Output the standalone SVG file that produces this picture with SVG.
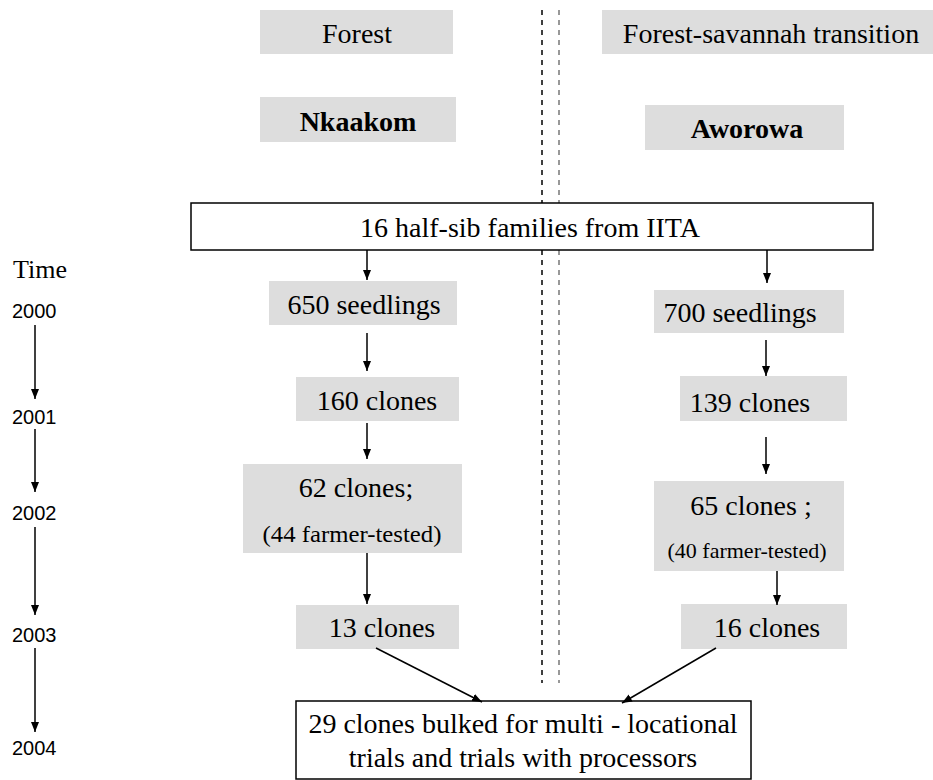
<svg xmlns="http://www.w3.org/2000/svg" width="933" height="780" viewBox="0 0 933 780" font-family="Liberation Serif">
<style>
.g{fill:#dddddd;stroke:none}
.w{fill:#fff;stroke:#000;stroke-width:1.5}
.t{font-family:'Liberation Serif',serif;font-size:28px;fill:#000;text-anchor:middle}
.b{font-weight:bold}
.s{font-family:'Liberation Serif',serif;fill:#000;text-anchor:middle}
.y{font-family:'Liberation Sans',sans-serif;font-size:20px;fill:#000}
.a{stroke:#000;stroke-width:1.5;fill:none;marker-end:url(#ah)}
.d{stroke-width:1.5;stroke-dasharray:5 5}
</style>
<defs>
<marker id="ah" markerUnits="userSpaceOnUse" markerWidth="10" markerHeight="10" viewBox="0 0 10 10" refX="10" refY="5" orient="auto">
<path d="M0,1 L10,5 L0,9 Z" fill="#000"/>
</marker>
</defs>
<g id="divider">
<line class="d" x1="542" y1="10" x2="542" y2="683" stroke="#000"/>
<line class="d" x1="559" y1="10" x2="559" y2="683" stroke="#777"/>
</g>
<g id="forest"><rect class="g" x="260" y="10" width="193" height="44"/><text class="t" x="357" y="43">Forest</text></g>
<g id="transition"><rect class="g" x="602" y="10" width="331" height="44"/><text class="t" x="771" y="43">Forest-savannah transition</text></g>
<g id="nkaakom"><rect class="g" x="260" y="97" width="196" height="45"/><text class="t b" x="358" y="131">Nkaakom</text></g>
<g id="aworowa"><rect class="g" x="645" y="105" width="199" height="45"/><text class="t b" x="747" y="138">Aworowa</text></g>
<g id="iita"><rect class="w" x="191" y="203" width="682" height="47"/><text class="t" x="530" y="237">16 half-sib families from IITA</text></g>
<g id="time-axis">
<text x="13" y="278" font-family="Liberation Serif" font-size="26">Time</text>
<text class="y" x="12" y="318">2000</text>
<text class="y" x="12" y="424">2001</text>
<text class="y" x="12" y="520">2002</text>
<text class="y" x="12" y="642">2003</text>
<text class="y" x="12" y="755">2004</text>
</g>
<g id="n650"><rect class="g" x="269" y="281" width="188" height="44"/><text class="t" x="364" y="314">650 seedlings</text></g>
<g id="n160"><rect class="g" x="296" y="377" width="163" height="44"/><text class="t" x="377" y="410">160 clones</text></g>
<g id="n62"><rect class="g" x="243" y="464" width="219" height="89"/><text class="t" x="356" y="497">62 clones;</text><text class="s" x="352" y="542" font-size="23" textLength="179" lengthAdjust="spacingAndGlyphs">(44 farmer-tested)</text></g>
<g id="n13"><rect class="g" x="296" y="605" width="163" height="44"/><text class="t" x="382" y="637">13 clones</text></g>
<g id="n700"><rect class="g" x="654" y="290" width="190" height="43"/><text class="t" x="740" y="322">700 seedlings</text></g>
<g id="n139"><rect class="g" x="680" y="376" width="167" height="45"/><text class="t" x="750" y="412">139 clones</text></g>
<g id="n65"><rect class="g" x="654" y="481" width="190" height="90"/><text class="t" x="751" y="515">65 clones ;</text><text class="s" x="747" y="558" font-size="21" textLength="159" lengthAdjust="spacingAndGlyphs">(40 farmer-tested)</text></g>
<g id="n16"><rect class="g" x="681" y="604" width="166" height="45"/><text class="t" x="767" y="637">16 clones</text></g>
<g id="bulk"><rect class="w" x="296" y="701" width="455" height="78"/><text class="t" x="523" y="733">29 clones bulked for multi - locational</text><text class="t" x="523" y="767">trials and trials with processors</text></g>
<g id="connectors">
<line class="a" x1="35" y1="325" x2="35" y2="399"/>
<line class="a" x1="35" y1="429" x2="35" y2="492"/>
<line class="a" x1="35" y1="527" x2="35" y2="615"/>
<line class="a" x1="35" y1="648" x2="35" y2="732"/>
<line class="a" x1="367" y1="250" x2="367" y2="280"/>
<line class="a" x1="367" y1="333" x2="367" y2="371"/>
<line class="a" x1="367" y1="423" x2="367" y2="459"/>
<line class="a" x1="367" y1="553" x2="367" y2="604"/>
<line class="a" x1="376" y1="648" x2="482" y2="702"/>
<line class="a" x1="767" y1="250" x2="767" y2="283"/>
<line class="a" x1="766" y1="340" x2="766" y2="376"/>
<line class="a" x1="766" y1="437" x2="766" y2="474"/>
<line class="a" x1="777" y1="571" x2="777" y2="605"/>
<line class="a" x1="716" y1="648" x2="622" y2="703"/>
</g>
</svg>
